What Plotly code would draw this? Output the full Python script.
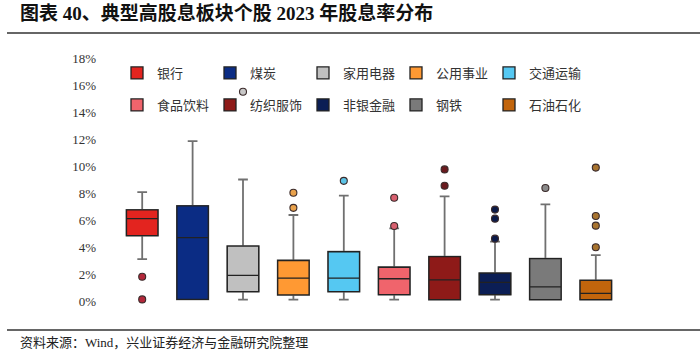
import plotly.graph_objects as go

# ---------------- data (dividend yield, %) ----------------
categories = ["银行", "煤炭", "家用电器", "公用事业", "交通运输",
              "食品饮料", "纺织服饰", "非银金融", "钢铁", "石油石化"]
lower_whisker = [3.1, 0.12, 0.1, 0.1, 0.1, 0.1, 0.1, 0.1, 0.1, 0.1]
q1_values = [4.85, 0.12, 0.7, 0.45, 0.7, 0.47, 0.1, 0.47, 0.1, 0.1]
median_values = [6.1, 4.7, 1.9, 1.7, 1.7, 1.65, 1.56, 1.38, 1.04, 0.57]
q3_values = [6.75, 7.05, 4.07, 3.0, 3.65, 2.5, 3.28, 2.07, 3.14, 1.53]
upper_whisker = [8.07, 11.85, 9.0, 6.37, 7.8, 5.38, 7.75, 4.4, 7.16, 3.4]
outlier_values = [
    [1.8, 0.12],
    [],
    [15.5],
    [8.02, 6.9],
    [8.9],
    [7.65, 5.56],
    [9.75, 8.54],
    [6.77, 6.1, 4.62],
    [8.37],
    [9.88, 6.3, 5.58, 3.98],
]
y_ticks = [0, 2, 4, 6, 8, 10, 12, 14, 16, 18]
y_tick_labels = [f"{v}%" for v in y_ticks]

fill_colors = ["#E3241F", "#0B2C84", "#C0C0C0", "#FF9933", "#55C8F2",
               "#F0646C", "#8E1A18", "#0B1E55", "#7A7A7A", "#C2650C"]
outlier_colors = ["#B3283A", "#0B2C84", "#C8C8C8", "#E9A24C", "#5CC3E6",
                  "#D8606F", "#6A1A1E", "#0B1A48", "#8A8A8A", "#A8742F"]

W, H = 700, 356
ML, MR, MT, MB = 117, 79, 58, 55
PW, PH = W - ML - MR, H - MT - MB


def px_x(x):
    return (x - ML) / PW


def px_y(y):
    return (H - MB - y) / PH


fig = go.Figure()

for i, cat in enumerate(categories):
    # whiskers (gray)
    fig.add_trace(go.Box(
        x=[cat], q1=[q1_values[i]], median=[median_values[i]], q3=[q3_values[i]],
        lowerfence=[lower_whisker[i]], upperfence=[upper_whisker[i]],
        fillcolor=fill_colors[i], line=dict(color="#707070", width=1.8),
        whiskerwidth=0.31, boxpoints=False, showlegend=False, hoverinfo="skip",
    ))
    # box body (dark outline)
    fig.add_trace(go.Box(
        x=[cat], q1=[q1_values[i]], median=[median_values[i]], q3=[q3_values[i]],
        lowerfence=[q1_values[i]], upperfence=[q3_values[i]],
        fillcolor=fill_colors[i], line=dict(color="#222222", width=1.3),
        whiskerwidth=0, boxpoints=False, name=cat,
        legend="legend" if i < 5 else "legend2",
    ))
    if outlier_values[i]:
        fig.add_trace(go.Scatter(
            x=[cat] * len(outlier_values[i]), y=outlier_values[i], mode="markers",
            marker=dict(size=7, color=outlier_colors[i],
                        line=dict(color="#3A2A2A", width=1.1)),
            showlegend=False, cliponaxis=False,
        ))

legend_common = dict(
    orientation="h", xref="paper", yref="paper", xanchor="left", yanchor="middle",
    entrywidth=48, entrywidthmode="pixels", bgcolor="rgba(0,0,0,0)",
    font=dict(family="Noto Sans CJK SC", size=13, color="#333333"),
    itemclick=False, itemdoubleclick=False,
)

fig.update_layout(
    width=W, height=H,
    margin=dict(l=ML, r=MR, t=MT, b=MB),
    paper_bgcolor="white", plot_bgcolor="white",
    boxmode="overlay", boxgap=0.11,
    showlegend=True,
    legend=dict(x=px_x(117), y=px_y(73), **legend_common),
    legend2=dict(x=px_x(117), y=px_y(105), **legend_common),
    xaxis=dict(type="category", categoryorder="array", categoryarray=categories,
               range=[-0.5, len(categories) - 0.5], showticklabels=False,
               showline=False, showgrid=False, zeroline=False, ticks=""),
    yaxis=dict(range=[0, 18], tickvals=y_ticks, ticktext=y_tick_labels,
               showline=False, showgrid=False, zeroline=False, ticks="",
               ticklabelstandoff=20,
               tickfont=dict(family="Liberation Serif", size=13, color="#333333")),
    title=dict(text="<b>图表 40、典型高股息板块个股 2023 年股息率分布</b>",
               xref="container", yref="container", x=20 / W, xanchor="left",
               y=1 - 13 / H, yanchor="middle",
               font=dict(family="Liberation Serif, Noto Sans CJK SC", size=19,
                         color="#111111")),
    annotations=[dict(
        text="资料来源：Wind，兴业证券经济与金融研究院整理",
        xref="paper", yref="paper", x=px_x(18), y=px_y(343),
        xanchor="left", yanchor="middle", showarrow=False,
        font=dict(family="Liberation Serif, Noto Sans CJK SC", size=13, color="#222222"),
    )],
    shapes=[
        dict(type="line", xref="paper", yref="paper", x0=px_x(7), x1=px_x(700),
             y0=px_y(33), y1=px_y(33), line=dict(color="#333333", width=1.5)),
        dict(type="line", xref="paper", yref="paper", x0=px_x(7), x1=px_x(700),
             y0=px_y(330), y1=px_y(330), line=dict(color="#333333", width=1.5)),
    ],
)

fig.write_html("out.html",
               config={"displayModeBar": False},
               post_script="document.body.style.margin='0';document.body.style.overflow='hidden';")
